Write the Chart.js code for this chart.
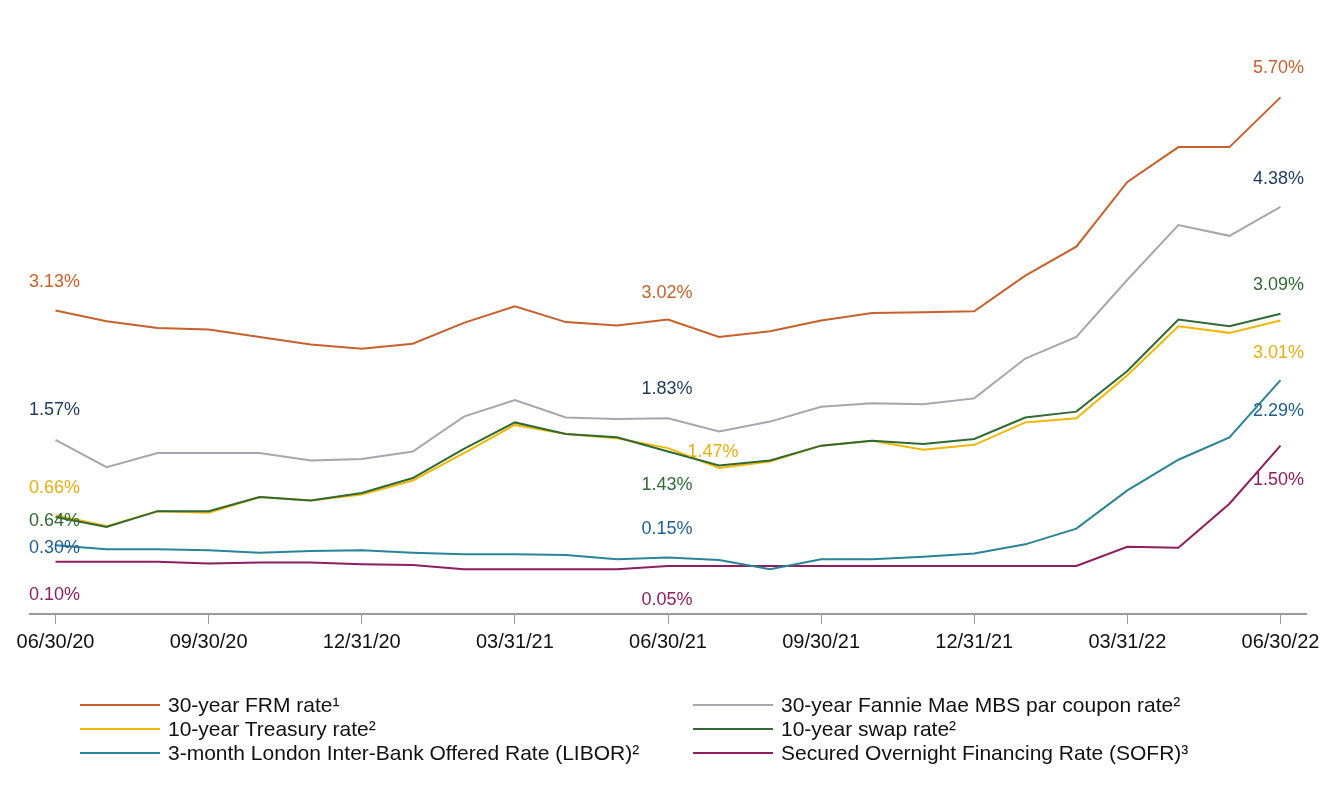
<!DOCTYPE html>
<html>
<head>
<meta charset="utf-8">
<script src="https://cdn.jsdelivr.net/npm/chart.js@4.4.1/dist/chart.umd.min.js"></script>
<style>
  html, body { margin: 0; padding: 0; background: #ffffff; }
  #wrap { position: relative; width: 1336px; height: 800px; font-family: "Liberation Sans", Arial, sans-serif; }
  #chart { position: absolute; left: 0; top: 0; }
  .lg { position: absolute; display: flex; align-items: center; font-size: 21px; color: #111; white-space: nowrap; height: 24px; }
  .lg .ln { display: inline-block; width: 80px; height: 2px; margin-right: 8px; }
</style>
</head>
<body>
<div id="wrap">
  <canvas id="chart" width="1336" height="800"></canvas>
</div>
<script>
// ---- data ----
const categories = ["06/30/20","07/31/20","08/31/20","09/30/20","10/31/20","11/30/20","12/31/20",
  "01/31/21","02/28/21","03/31/21","04/30/21","05/31/21","06/30/21","07/31/21","08/31/21","09/30/21",
  "10/31/21","11/30/21","12/31/21","01/31/22","02/28/22","03/31/22","04/30/22","05/31/22","06/30/22"];
const frmRate      = [3.13, 3.00, 2.92, 2.90, 2.81, 2.72, 2.67, 2.73, 2.98, 3.18, 2.99, 2.95, 3.02, 2.81, 2.88, 3.01, 3.10, 3.11, 3.12, 3.55, 3.90, 4.68, 5.10, 5.10, 5.70];
const mbsRate      = [1.57, 1.24, 1.41, 1.41, 1.41, 1.32, 1.34, 1.43, 1.85, 2.05, 1.84, 1.82, 1.83, 1.67, 1.79, 1.97, 2.01, 2.00, 2.07, 2.55, 2.81, 3.50, 4.16, 4.03, 4.38];
const treasuryRate = [0.66, 0.53, 0.71, 0.69, 0.88, 0.84, 0.91, 1.08, 1.41, 1.75, 1.64, 1.59, 1.47, 1.23, 1.31, 1.50, 1.56, 1.45, 1.51, 1.78, 1.83, 2.35, 2.94, 2.86, 3.01];
const swapRate     = [0.64, 0.52, 0.71, 0.71, 0.88, 0.84, 0.93, 1.11, 1.46, 1.78, 1.64, 1.60, 1.43, 1.26, 1.32, 1.50, 1.56, 1.52, 1.58, 1.84, 1.91, 2.40, 3.02, 2.94, 3.09];
const liborRate    = [0.30, 0.25, 0.25, 0.24, 0.21, 0.23, 0.24, 0.21, 0.19, 0.19, 0.18, 0.13, 0.15, 0.12, 0.01, 0.13, 0.13, 0.16, 0.20, 0.31, 0.50, 0.96, 1.33, 1.60, 2.29];
const sofrRate     = [0.10, 0.10, 0.10, 0.08, 0.09, 0.09, 0.07, 0.06, 0.01, 0.01, 0.01, 0.01, 0.05, 0.05, 0.05, 0.05, 0.05, 0.05, 0.05, 0.05, 0.05, 0.28, 0.27, 0.80, 1.50];
const seriesNames = [
  "30-year FRM rate\u00b9",
  "30-year Fannie Mae MBS par coupon rate\u00b2",
  "10-year Treasury rate\u00b2",
  "10-year swap rate\u00b2",
  "3-month London Inter-Bank Offered Rate (LIBOR)\u00b2",
  "Secured Overnight Financing Rate (SOFR)\u00b3"
];
const tickEvery = 3;
const labeledIndices = [0, 12, 24];

// ---- styles ----
const lineColors  = ["#C8602C", "#A6A6AF", "#F2B705", "#2F6A34", "#2A8498", "#8E1E5F"];
const labelColors = ["#C8602C", "#1C3A5C", "#E8AE10", "#2F6A34", "#1F5F8F", "#8E1E5F"];
// label offsets [dx, dy] per dataset for each labeled index
const labelOffsets = [
  [[-1,-28],[-1,-27],[-2,-29]],
  [[-1,-30],[-1,-29],[-2,-28]],
  [[-1,-27],[45,4],[-2,33]],
  [[-1,4],[-1,34],[-2,-29]],
  [[-1,3],[-1,-29],[-2,31]],
  [[-1,33],[-1,34],[-2,34]]
];
const drawOrder = [0, 1, 3, 2, 4, 5];

const valueLabels = {
  id: 'valueLabels',
  afterDatasetsDraw(chart) {
    const ctx = chart.ctx;
    ctx.save();
    ctx.font = '18px "Liberation Sans", Arial, sans-serif';
    ctx.textAlign = 'center';
    ctx.textBaseline = 'middle';
    chart.data.datasets.forEach((ds, di) => {
      const meta = chart.getDatasetMeta(di);
      labeledIndices.forEach((idx, k) => {
        const pt = meta.data[idx];
        if (!pt) return;
        const off = labelOffsets[di][k];
        ctx.fillStyle = labelColors[di];
        ctx.fillText(ds.data[idx].toFixed(2) + '%', pt.x + off[0], pt.y + off[1]);
      });
    });
    ctx.restore();
  }
};

const allSeries = [frmRate, mbsRate, treasuryRate, swapRate, liborRate, sofrRate];
const datasets = allSeries.map((vals, i) => ({
  label: seriesNames[i],
  data: vals,
  borderColor: lineColors[i],
  backgroundColor: lineColors[i],
  borderWidth: 2,
  pointRadius: 0,
  pointHoverRadius: 0,
  tension: 0,
  fill: false,
  order: drawOrder[i]
}));

const chart = new Chart(document.getElementById('chart'), {
  type: 'line',
  data: { labels: categories, datasets },
  options: {
    responsive: false,
    animation: false,
    layout: { padding: { left: 30, right: 30, top: 31, bottom: 140 } },
    plugins: { legend: { display: false }, tooltip: { enabled: false } },
    scales: {
      x: {
        offset: true,
        grid: {
          offset: false,
          drawOnChartArea: false,
          drawTicks: true,
          tickLength: 10,
          lineWidth: 1,
          color: (c) => (c.index % tickEvery === 0 ? '#9a9a9a' : 'rgba(0,0,0,0)')
        },
        border: { display: true, color: '#9a9a9a', width: 2 },
        ticks: {
          autoSkip: false,
          maxRotation: 0,
          padding: 6,
          color: '#111',
          font: { size: 20, family: '"Liberation Sans", Arial, sans-serif' },
          callback: function(v, i) { return i % tickEvery === 0 ? categories[i] : ''; }
        }
      },
      y: {
        display: false,
        min: -0.53,
        max: 6.5
      }
    }
  },
  plugins: [valueLabels]
});

// ---- HTML legend ----
const wrap = document.getElementById('wrap');
const legendCols = [80, 693];
const legendRows = [705, 729, 753];
chart.data.datasets.forEach((ds, i) => {
  const item = document.createElement('div');
  item.className = 'lg';
  item.style.left = legendCols[i % 2] + 'px';
  item.style.top = (legendRows[Math.floor(i / 2)] - 12) + 'px';
  const ln = document.createElement('span');
  ln.className = 'ln';
  ln.style.background = ds.borderColor;
  const tx = document.createElement('span');
  tx.textContent = ds.label;
  item.appendChild(ln);
  item.appendChild(tx);
  wrap.appendChild(item);
});
</script>
</body>
</html>
